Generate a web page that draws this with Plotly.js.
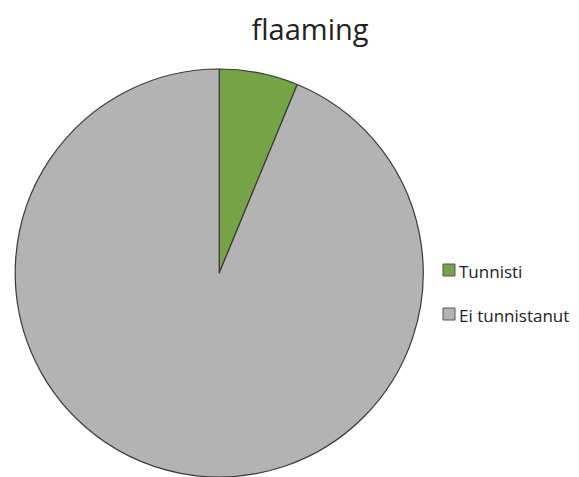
<!DOCTYPE html>
<html>
<head>
<meta charset="utf-8">
<script src="https://cdn.plot.ly/plotly-3.0.1.min.js"></script>
<style>html,body{margin:0;padding:0;background:#fff;}#chart{width:579px;height:477px;}</style>
</head>
<body>
<div id="chart"></div>
<script>
const labels = ["Tunnisti", "Ei tunnistanut"];
const values = [1, 15];
const colors = ["#77a347", "#b3b3b3"];
const titleText = "flaaming";

const FONT = "Open Sans, Liberation Sans, sans-serif";

const trace = {
  type: "pie",
  labels: labels,
  values: values,
  marker: { colors: colors, line: { color: "#3a3a3a", width: 1.2 } },
  sort: false,
  direction: "clockwise",
  rotation: 0,
  textinfo: "none",
  hoverinfo: "label+value+percent",
  showlegend: false,
  domain: { x: [0.024, 0.7332], y: [0, 0.8553] }
};

// legend drawn from the label/colour arrays
const legendX = 443, legendY0 = 270, legendStep = 44, sq = 12;
const shapes = [], annotations = [];
labels.forEach((lab, i) => {
  const cy = legendY0 + i * legendStep;
  shapes.push({
    type: "rect", xref: "paper", yref: "paper",
    x0: legendX / 579, x1: (legendX + sq) / 579,
    y0: 1 - (cy + sq / 2) / 477, y1: 1 - (cy - sq / 2) / 477,
    fillcolor: colors[i], line: { color: "#555", width: 1 }
  });
  annotations.push({
    xref: "paper", yref: "paper",
    x: (legendX + sq + 2) / 579, y: 1 - (cy + 1) / 477,
    xanchor: "left", yanchor: "middle", showarrow: false,
    text: lab, font: { family: FONT, size: 17, color: "#222" }
  });
});

const layout = {
  width: 579, height: 477,
  margin: { l: 0, r: 0, t: 0, b: 0 },
  paper_bgcolor: "#ffffff",
  title: {
    text: titleText,
    font: { family: FONT, size: 29, color: "#222" },
    x: 310 / 579, xanchor: "center",
    y: 1 - 30 / 477, yanchor: "middle"
  },
  shapes: shapes,
  annotations: annotations,
  showlegend: false
};

Plotly.newPlot("chart", [trace], layout, { displayModeBar: false, staticPlot: true });
</script>
</body>
</html>
